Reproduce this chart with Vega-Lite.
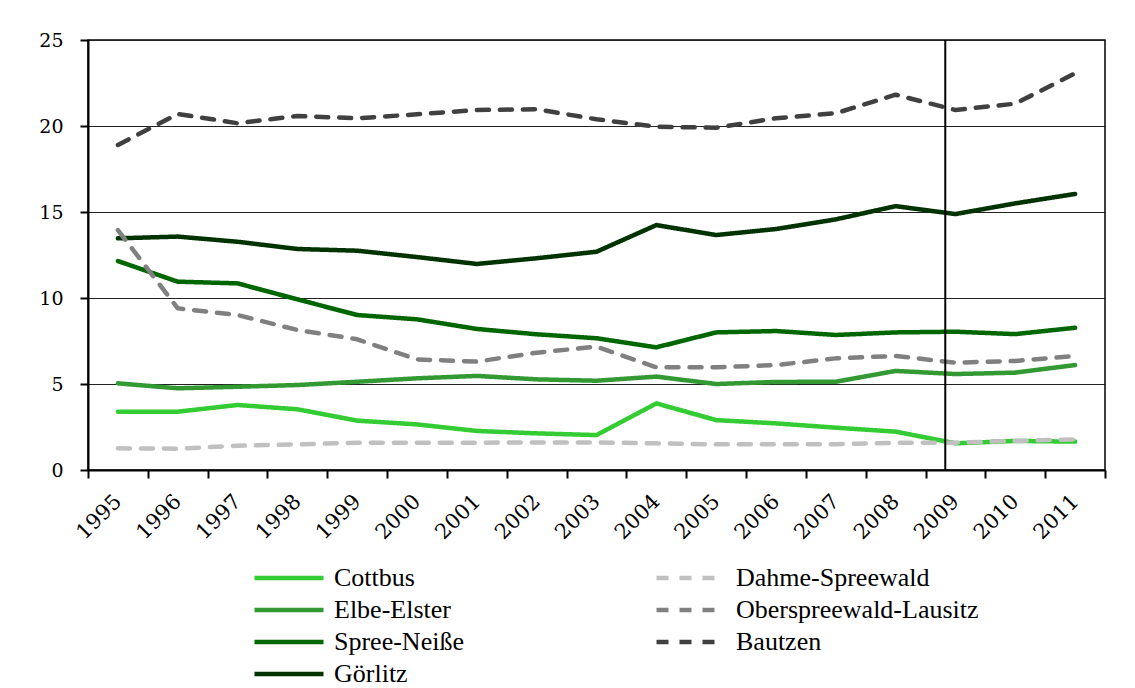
{
  "$schema": "https://vega.github.io/schema/vega-lite/v6.json",
  "width": 1017,
  "height": 430,
  "autosize": "none",
  "padding": {"left": 88, "top": 40, "right": 30, "bottom": 218},
  "background": "white",
  "config": {
    "view": {"stroke": "black", "strokeWidth": 1.5},
    "axis": {"labelColor": "black", "domainColor": "black", "domainWidth": 2, "tickColor": "black", "tickWidth": 2, "tickSize": 8}
  },
  "datasets": {
    "series": [
      {"year": "1995", "region": "Cottbus", "value": 3.39},
      {"year": "1996", "region": "Cottbus", "value": 3.39},
      {"year": "1997", "region": "Cottbus", "value": 3.78},
      {"year": "1998", "region": "Cottbus", "value": 3.53},
      {"year": "1999", "region": "Cottbus", "value": 2.87},
      {"year": "2000", "region": "Cottbus", "value": 2.65},
      {"year": "2001", "region": "Cottbus", "value": 2.27},
      {"year": "2002", "region": "Cottbus", "value": 2.13},
      {"year": "2003", "region": "Cottbus", "value": 2.03},
      {"year": "2004", "region": "Cottbus", "value": 3.87},
      {"year": "2005", "region": "Cottbus", "value": 2.9},
      {"year": "2006", "region": "Cottbus", "value": 2.71},
      {"year": "2007", "region": "Cottbus", "value": 2.46},
      {"year": "2008", "region": "Cottbus", "value": 2.23},
      {"year": "2009", "region": "Cottbus", "value": 1.55},
      {"year": "2010", "region": "Cottbus", "value": 1.69},
      {"year": "2011", "region": "Cottbus", "value": 1.65},
      {"year": "1995", "region": "Elbe-Elster", "value": 5.04},
      {"year": "1996", "region": "Elbe-Elster", "value": 4.75},
      {"year": "1997", "region": "Elbe-Elster", "value": 4.84},
      {"year": "1998", "region": "Elbe-Elster", "value": 4.94},
      {"year": "1999", "region": "Elbe-Elster", "value": 5.13},
      {"year": "2000", "region": "Elbe-Elster", "value": 5.33},
      {"year": "2001", "region": "Elbe-Elster", "value": 5.47},
      {"year": "2002", "region": "Elbe-Elster", "value": 5.27},
      {"year": "2003", "region": "Elbe-Elster", "value": 5.19},
      {"year": "2004", "region": "Elbe-Elster", "value": 5.43},
      {"year": "2005", "region": "Elbe-Elster", "value": 5.0},
      {"year": "2006", "region": "Elbe-Elster", "value": 5.12},
      {"year": "2007", "region": "Elbe-Elster", "value": 5.13},
      {"year": "2008", "region": "Elbe-Elster", "value": 5.76},
      {"year": "2009", "region": "Elbe-Elster", "value": 5.58},
      {"year": "2010", "region": "Elbe-Elster", "value": 5.66},
      {"year": "2011", "region": "Elbe-Elster", "value": 6.1},
      {"year": "1995", "region": "Spree-Neiße", "value": 12.15},
      {"year": "1996", "region": "Spree-Neiße", "value": 10.95},
      {"year": "1997", "region": "Spree-Neiße", "value": 10.85},
      {"year": "1998", "region": "Spree-Neiße", "value": 9.92},
      {"year": "1999", "region": "Spree-Neiße", "value": 9.01},
      {"year": "2000", "region": "Spree-Neiße", "value": 8.76},
      {"year": "2001", "region": "Spree-Neiße", "value": 8.2},
      {"year": "2002", "region": "Spree-Neiße", "value": 7.89},
      {"year": "2003", "region": "Spree-Neiße", "value": 7.66},
      {"year": "2004", "region": "Spree-Neiße", "value": 7.13},
      {"year": "2005", "region": "Spree-Neiße", "value": 8.0},
      {"year": "2006", "region": "Spree-Neiße", "value": 8.08},
      {"year": "2007", "region": "Spree-Neiße", "value": 7.85},
      {"year": "2008", "region": "Spree-Neiße", "value": 8.0},
      {"year": "2009", "region": "Spree-Neiße", "value": 8.04},
      {"year": "2010", "region": "Spree-Neiße", "value": 7.9},
      {"year": "2011", "region": "Spree-Neiße", "value": 8.27},
      {"year": "1995", "region": "Görlitz", "value": 13.47},
      {"year": "1996", "region": "Görlitz", "value": 13.57},
      {"year": "1997", "region": "Görlitz", "value": 13.27},
      {"year": "1998", "region": "Görlitz", "value": 12.85},
      {"year": "1999", "region": "Görlitz", "value": 12.75},
      {"year": "2000", "region": "Görlitz", "value": 12.38},
      {"year": "2001", "region": "Görlitz", "value": 11.98},
      {"year": "2002", "region": "Görlitz", "value": 12.31},
      {"year": "2003", "region": "Görlitz", "value": 12.69},
      {"year": "2004", "region": "Görlitz", "value": 14.24},
      {"year": "2005", "region": "Görlitz", "value": 13.66},
      {"year": "2006", "region": "Görlitz", "value": 14.01},
      {"year": "2007", "region": "Görlitz", "value": 14.57},
      {"year": "2008", "region": "Görlitz", "value": 15.34},
      {"year": "2009", "region": "Görlitz", "value": 14.88},
      {"year": "2010", "region": "Görlitz", "value": 15.5},
      {"year": "2011", "region": "Görlitz", "value": 16.05},
      {"year": "1995", "region": "Dahme-Spreewald", "value": 1.26},
      {"year": "1996", "region": "Dahme-Spreewald", "value": 1.24},
      {"year": "1997", "region": "Dahme-Spreewald", "value": 1.41},
      {"year": "1998", "region": "Dahme-Spreewald", "value": 1.49},
      {"year": "1999", "region": "Dahme-Spreewald", "value": 1.59},
      {"year": "2000", "region": "Dahme-Spreewald", "value": 1.59},
      {"year": "2001", "region": "Dahme-Spreewald", "value": 1.59},
      {"year": "2002", "region": "Dahme-Spreewald", "value": 1.6},
      {"year": "2003", "region": "Dahme-Spreewald", "value": 1.6},
      {"year": "2004", "region": "Dahme-Spreewald", "value": 1.55},
      {"year": "2005", "region": "Dahme-Spreewald", "value": 1.49},
      {"year": "2006", "region": "Dahme-Spreewald", "value": 1.49},
      {"year": "2007", "region": "Dahme-Spreewald", "value": 1.5},
      {"year": "2008", "region": "Dahme-Spreewald", "value": 1.58},
      {"year": "2009", "region": "Dahme-Spreewald", "value": 1.59},
      {"year": "2010", "region": "Dahme-Spreewald", "value": 1.69},
      {"year": "2011", "region": "Dahme-Spreewald", "value": 1.78},
      {"year": "1995", "region": "Oberspreewald-Lausitz", "value": 13.95},
      {"year": "1996", "region": "Oberspreewald-Lausitz", "value": 9.4},
      {"year": "1997", "region": "Oberspreewald-Lausitz", "value": 9.01},
      {"year": "1998", "region": "Oberspreewald-Lausitz", "value": 8.14},
      {"year": "1999", "region": "Oberspreewald-Lausitz", "value": 7.6},
      {"year": "2000", "region": "Oberspreewald-Lausitz", "value": 6.43},
      {"year": "2001", "region": "Oberspreewald-Lausitz", "value": 6.3},
      {"year": "2002", "region": "Oberspreewald-Lausitz", "value": 6.82},
      {"year": "2003", "region": "Oberspreewald-Lausitz", "value": 7.17},
      {"year": "2004", "region": "Oberspreewald-Lausitz", "value": 5.97},
      {"year": "2005", "region": "Oberspreewald-Lausitz", "value": 5.97},
      {"year": "2006", "region": "Oberspreewald-Lausitz", "value": 6.1},
      {"year": "2007", "region": "Oberspreewald-Lausitz", "value": 6.49},
      {"year": "2008", "region": "Oberspreewald-Lausitz", "value": 6.63},
      {"year": "2009", "region": "Oberspreewald-Lausitz", "value": 6.24},
      {"year": "2010", "region": "Oberspreewald-Lausitz", "value": 6.34},
      {"year": "2011", "region": "Oberspreewald-Lausitz", "value": 6.63},
      {"year": "1995", "region": "Bautzen", "value": 18.9},
      {"year": "1996", "region": "Bautzen", "value": 20.7},
      {"year": "1997", "region": "Bautzen", "value": 20.16},
      {"year": "1998", "region": "Bautzen", "value": 20.58},
      {"year": "1999", "region": "Bautzen", "value": 20.45},
      {"year": "2000", "region": "Bautzen", "value": 20.68},
      {"year": "2001", "region": "Bautzen", "value": 20.93},
      {"year": "2002", "region": "Bautzen", "value": 20.97},
      {"year": "2003", "region": "Bautzen", "value": 20.39},
      {"year": "2004", "region": "Bautzen", "value": 19.96},
      {"year": "2005", "region": "Bautzen", "value": 19.9},
      {"year": "2006", "region": "Bautzen", "value": 20.45},
      {"year": "2007", "region": "Bautzen", "value": 20.74},
      {"year": "2008", "region": "Bautzen", "value": 21.82},
      {"year": "2009", "region": "Bautzen", "value": 20.93},
      {"year": "2010", "region": "Bautzen", "value": 21.3},
      {"year": "2011", "region": "Bautzen", "value": 23.06}
    ],
    "marker": [{"year": "2009"}]
  },
  "layer": [
    {
      "data": {"name": "series"},
      "mark": {"type": "line", "strokeWidth": 4.5, "strokeCap": "round", "strokeJoin": "round"},
      "encoding": {
        "x": {
          "field": "year", "type": "ordinal", "title": null,
          "scale": {"type": "band", "paddingInner": 0, "paddingOuter": 0},
          "axis": {"tickBand": "extent", "labelAngle": -45, "labelAlign": "right", "labelBaseline": "middle", "labelFont": "DejaVu Serif", "labelFontSize": 21, "labelPadding": 20, "grid": false}
        },
        "y": {
          "field": "value", "type": "quantitative", "title": null,
          "scale": {"domain": [0, 25], "nice": false},
          "axis": {"values": [0, 5, 10, 15, 20, 25], "labelFont": "DejaVu Serif", "labelFontSize": 19, "labelPadding": 17, "grid": true, "gridColor": "#222", "gridWidth": 1, "gridOpacity": 1}
        },
        "color": {
          "field": "region", "type": "nominal",
          "scale": {
            "domain": ["Cottbus", "Elbe-Elster", "Spree-Neiße", "Görlitz", "Dahme-Spreewald", "Oberspreewald-Lausitz", "Bautzen"],
            "range": ["#33CC33", "#339933", "#006600", "#003300", "#C0C0C0", "#808080", "#404040"]
          },
          "legend": {
            "title": null, "orient": "none", "legendX": 187, "legendY": 524, "columns": 2, "columnPadding": 183, "rowPadding": 5,
            "symbolType": "M-3,0H3", "symbolSize": 529, "symbolStrokeWidth": 4.5, "labelFontSize": 26, "labelFont": "Liberation Serif", "labelColor": "black", "labelOffset": 31, "labelLimit": 400, "padding": 0
          }
        },
        "strokeDash": {
          "field": "region", "type": "nominal",
          "scale": {
            "domain": ["Cottbus", "Elbe-Elster", "Spree-Neiße", "Görlitz", "Dahme-Spreewald", "Oberspreewald-Lausitz", "Bautzen"],
            "range": [[1, 0], [1, 0], [1, 0], [1, 0], [12, 11], [12, 11], [12, 11]]
          }
        }
      }
    },
    {
      "data": {"name": "marker"},
      "mark": {"type": "rule", "color": "black", "strokeWidth": 2},
      "encoding": {
        "x": {"field": "year", "type": "ordinal", "bandPosition": 0.33}
      }
    }
  ]
}
